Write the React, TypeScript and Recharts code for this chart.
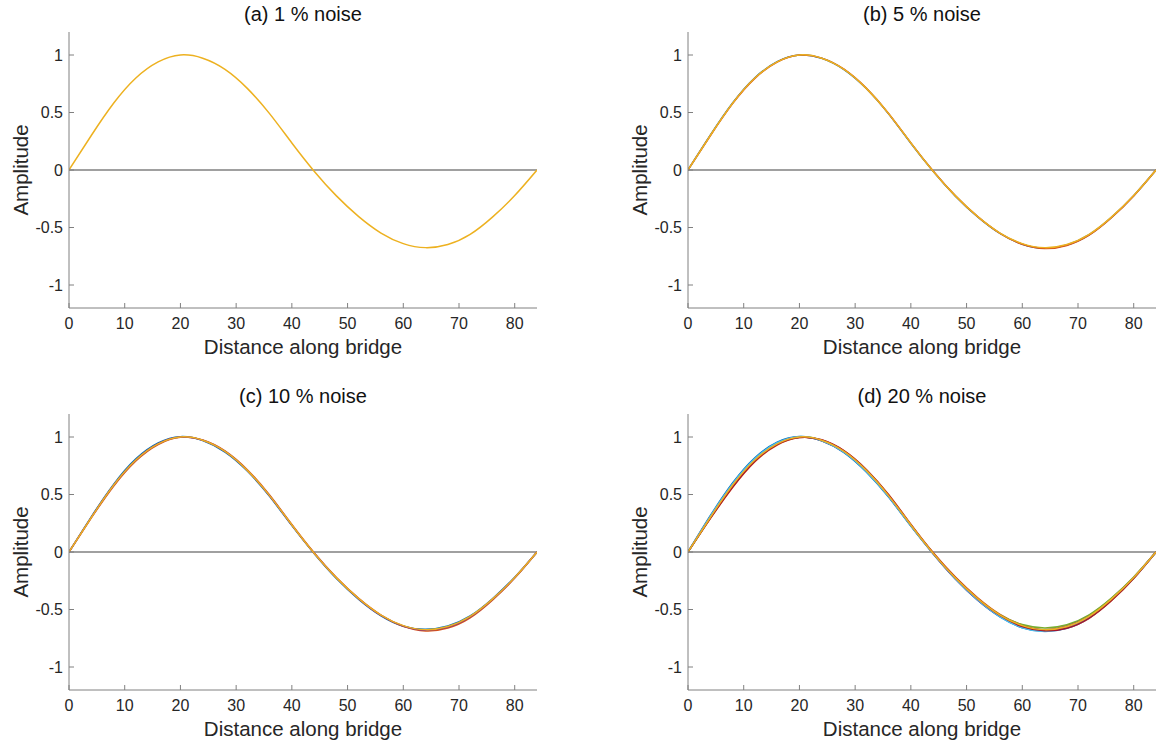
import React from 'react';
import { LineChart, Line, XAxis, YAxis, ReferenceLine } from 'recharts';

// Distance along bridge sample positions
const X = [0, 4, 8, 12, 16, 20, 24, 28, 32, 36, 40, 44, 48, 52, 56, 60, 64, 68, 72, 76, 80, 84];

// Reference mode shape (drawn last, yellow)
const BASE = [0, 0.3, 0.58, 0.8, 0.94, 1.0, 0.972, 0.875, 0.71, 0.49, 0.235, -0.01, -0.225, -0.405, -0.548, -0.64, -0.675, -0.648, -0.56, -0.41, -0.222, 0];

// (b) 5 % noise
const B_BLUE = [0, 0.302, 0.582, 0.802, 0.942, 1.0, 0.971, 0.873, 0.708, 0.488, 0.233, -0.011, -0.227, -0.408, -0.552, -0.645, -0.68, -0.652, -0.563, -0.412, -0.223, 0];
const B_ORANGE = [0, 0.298, 0.577, 0.797, 0.938, 0.999, 0.973, 0.877, 0.712, 0.492, 0.236, -0.009, -0.225, -0.406, -0.551, -0.646, -0.683, -0.656, -0.567, -0.415, -0.225, 0];

// (c) 10 % noise
const C_BLUE = [0, 0.306, 0.588, 0.81, 0.948, 1.003, 0.969, 0.869, 0.704, 0.484, 0.229, -0.013, -0.231, -0.412, -0.555, -0.645, -0.672, -0.643, -0.556, -0.406, -0.22, 0];
const C_ORANGE = [0, 0.296, 0.572, 0.792, 0.935, 0.998, 0.975, 0.88, 0.716, 0.495, 0.239, -0.007, -0.222, -0.403, -0.548, -0.646, -0.686, -0.661, -0.572, -0.418, -0.227, 0];
const C_PURPLE = [0, 0.301, 0.58, 0.8, 0.941, 1.0, 0.972, 0.874, 0.709, 0.489, 0.234, -0.011, -0.226, -0.407, -0.552, -0.643, -0.679, -0.653, -0.564, -0.412, -0.223, 0];

// (d) 20 % noise
const D_BLUE = [0, 0.315, 0.6, 0.82, 0.955, 1.005, 0.968, 0.865, 0.696, 0.478, 0.225, -0.015, -0.235, -0.42, -0.565, -0.658, -0.69, -0.661, -0.571, -0.416, -0.227, 0];
const D_ORANGE = [0, 0.29, 0.56, 0.785, 0.93, 0.995, 0.975, 0.882, 0.718, 0.5, 0.242, -0.005, -0.218, -0.398, -0.542, -0.635, -0.68, -0.661, -0.576, -0.424, -0.23, 0];
const D_PURPLE = [0, 0.305, 0.585, 0.805, 0.945, 1.0, 0.968, 0.87, 0.706, 0.485, 0.23, -0.015, -0.235, -0.418, -0.559, -0.648, -0.675, -0.641, -0.551, -0.404, -0.22, 0];
const D_GREEN = [0, 0.298, 0.578, 0.798, 0.94, 0.998, 0.97, 0.872, 0.708, 0.488, 0.232, -0.012, -0.228, -0.408, -0.547, -0.631, -0.66, -0.633, -0.546, -0.401, -0.217, 0];
const D_CYAN = [0, 0.31, 0.592, 0.812, 0.95, 1.003, 0.969, 0.868, 0.701, 0.482, 0.228, -0.014, -0.233, -0.417, -0.563, -0.658, -0.692, -0.664, -0.572, -0.416, -0.225, 0];
const D_MAROON = [0, 0.292, 0.565, 0.79, 0.935, 0.996, 0.976, 0.88, 0.716, 0.495, 0.238, -0.008, -0.223, -0.405, -0.552, -0.648, -0.685, -0.663, -0.574, -0.421, -0.228, 0];

const X_TICKS = [0, 10, 20, 30, 40, 50, 60, 70, 80];
const Y_TICKS = [-1, -0.5, 0, 0.5, 1];

const TITLES = ['(a) 1 % noise', '(b) 5 % noise', '(c) 10 % noise', '(d) 20 % noise'];

const COLORS = {
  blue: '#0072BD',
  orange: '#D95319',
  yellow: '#EDB120',
  purple: '#7E2F8E',
  green: '#77AC30',
  cyan: '#4DBEEE',
  maroon: '#A2142F',
};

type Series = { color: string; values: number[] };

const PANELS: Series[][] = [
  [{ color: COLORS.yellow, values: BASE }],
  [
    { color: COLORS.blue, values: B_BLUE },
    { color: COLORS.orange, values: B_ORANGE },
    { color: COLORS.yellow, values: BASE },
  ],
  [
    { color: COLORS.blue, values: C_BLUE },
    { color: COLORS.orange, values: C_ORANGE },
    { color: COLORS.purple, values: C_PURPLE },
    { color: COLORS.yellow, values: BASE },
  ],
  [
    { color: COLORS.blue, values: D_BLUE },
    { color: COLORS.orange, values: D_ORANGE },
    { color: COLORS.purple, values: D_PURPLE },
    { color: COLORS.green, values: D_GREEN },
    { color: COLORS.cyan, values: D_CYAN },
    { color: COLORS.maroon, values: D_MAROON },
    { color: COLORS.yellow, values: BASE },
  ],
];

const CHART_W = 580;
const CHART_H = 360;
const PLOT_LEFT = 69;
const PLOT_TOP = 32;
const PLOT_W = 468;
const AXIS_COLOR = '#808080';
const TEXT_COLOR = '#262626';

const POSITIONS = [
  { left: 0, top: 0 },
  { left: 619, top: 0 },
  { left: 0, top: 382 },
  { left: 619, top: 382 },
];

function Panel({ idx }: { idx: number }) {
  const series = PANELS[idx];
  const pos = POSITIONS[idx];
  return (
    <div style={{ position: 'absolute', left: pos.left, top: pos.top, width: CHART_W, height: CHART_H }}>
      <div
        style={{
          position: 'absolute',
          left: PLOT_LEFT,
          top: 3,
          width: PLOT_W,
          textAlign: 'center',
          fontSize: 20,
          lineHeight: '22px',
          color: '#111',
        }}
      >
        {TITLES[idx]}
      </div>
      <LineChart width={CHART_W} height={CHART_H} margin={{ top: PLOT_TOP, right: CHART_W - PLOT_LEFT - PLOT_W, bottom: 0, left: 0 }}>
        <XAxis
          dataKey="x"
          type="number"
          domain={[0, 84]}
          ticks={X_TICKS}
          allowDataOverflow
          height={52}
          stroke={AXIS_COLOR}
          tickSize={-5}
          tickMargin={15}
          tick={{ fontSize: 16, fill: TEXT_COLOR }}
          label={{ value: 'Distance along bridge', position: 'insideBottom', offset: 6, fontSize: 20.5, fill: TEXT_COLOR }}
        />
        <XAxis
          xAxisId="top"
          orientation="top"
          dataKey="x"
          type="number"
          domain={[0, 84]}
          ticks={X_TICKS}
          allowDataOverflow
          height={0}
          stroke={AXIS_COLOR}
          tickSize={-5}
          tick={false}
        />
        <YAxis
          type="number"
          domain={[-1.2, 1.2]}
          ticks={Y_TICKS}
          allowDataOverflow
          width={PLOT_LEFT}
          stroke={AXIS_COLOR}
          tickSize={-5}
          tickMargin={11}
          tick={{ fontSize: 16, fill: TEXT_COLOR }}
          label={{ value: 'Amplitude', angle: -90, position: 'insideLeft', offset: 21, textAnchor: 'middle', fontSize: 20.5, fill: TEXT_COLOR }}
        />
        <YAxis
          yAxisId="right"
          orientation="right"
          type="number"
          domain={[-1.2, 1.2]}
          ticks={Y_TICKS}
          allowDataOverflow
          width={0}
          stroke={AXIS_COLOR}
          tickSize={-5}
          tick={false}
        />
        <ReferenceLine y={0} stroke="#808080" strokeWidth={1.5} />
        {series.map((s, i) => (
          <Line
            key={i}
            data={X.map((x, j) => ({ x, y: s.values[j] }))}
            dataKey="y"
            type="natural"
            stroke={s.color}
            strokeWidth={1.5}
            dot={false}
            activeDot={false}
            isAnimationActive={false}
          />
        ))}
      </LineChart>
    </div>
  );
}

export default function App() {
  return (
    <div
      style={{
        position: 'absolute',
        left: 0,
        top: 0,
        width: 1161,
        height: 742,
        background: '#fff',
        fontFamily: '"Liberation Sans", Arial, Helvetica, sans-serif',
      }}
    >
      {[0, 1, 2, 3].map((i) => (
        <Panel key={i} idx={i} />
      ))}
    </div>
  );
}
